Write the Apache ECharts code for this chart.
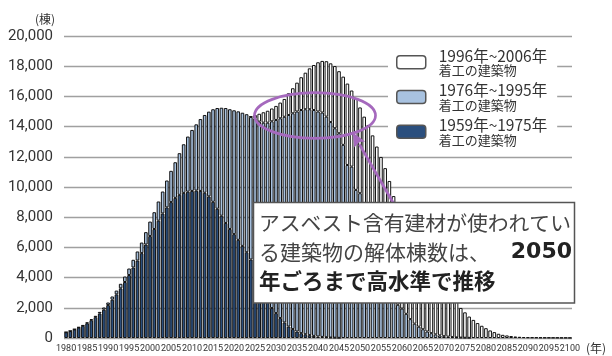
<!DOCTYPE html>
<html>
<head>
<meta charset="utf-8">
<script src="https://cdn.jsdelivr.net/npm/echarts@6/dist/echarts.min.js"></script>
<style>html,body{margin:0;padding:0;background:#fff}#c{width:612px;height:356px}</style>
</head>
<body>
<div id="c"></div>
<script>
// Categories: demolition years
const years = [];
for (let y = 1980; y <= 2100; y++) years.push(String(y));

const yTickLabels = ['0','2,000','4,000','6,000','8,000','10,000','12,000','14,000','16,000','18,000','20,000'];

const seriesNames = ['1996年~2006年', '1976年~1995年', '1959年~1975年'];

// 1959-1975 built (dark)
const dark = [
  380,460,570,690,810,975,1180,1380,1620,1880,
  2180,2540,2890,3290,3710,4170,4670,5130,5620,6190,
  6750,7220,7770,8250,8650,9000,9280,9480,9610,9690,
  9740,9760,9740,9620,9380,9020,8560,8100,7620,7220,
  6880,6500,6100,5680,5200,4600,3900,3100,2400,1980,
  1650,1320,1030,760,590,430,320,250,190,140,
  100,70,50,30,20,10,0,0,0,0,
  0,0,0,0,0,0,0,0,0,0,
  0,0,0,0,0,0,0,0,0,0,
  0,0,0,0,0,0,0,0,0,0,
  0,0,0,0,0,0,0,0,0,0,
  0,0,0,0,0,0,0,0,0,0,
  0
];
// 1976-1995 built (light blue)
const light = [
  10,15,20,30,40,55,70,90,110,140,
  170,210,250,300,360,430,510,600,700,820,
  960,1110,1270,1450,1780,2070,2360,2760,3220,3650,
  4040,4390,4760,5150,5610,6130,6670,7150,7610,7930,
  8200,8510,8820,9140,9440,9950,10430,11160,11860,12370,
  12790,13230,13620,14010,14290,14570,14780,14900,14960,14960,
  14900,14860,14610,14270,13870,13550,12790,11460,11350,9810,
  9590,8600,7600,6600,5600,4700,3800,3100,2550,2200,
  1950,1600,1250,950,750,580,430,320,240,170,
  120,90,60,40,25,15,10,0,0,0,
  0,0,0,0,0,0,0,0,0,0,
  0,0,0,0,0,0,0,0,0,0,
  0
];
// 1996-2006 built (white)
const white = [
  0,0,0,0,0,0,0,0,0,0,
  0,0,0,0,0,0,0,0,0,0,
  0,0,0,0,0,0,0,0,0,0,
  0,0,0,0,0,0,0,0,0,0,
  0,0,0,0,40,220,520,690,790,850,
  930,1040,1180,1440,1660,1910,2170,2420,2710,2980,
  3260,3420,3670,3890,4120,4110,4520,5390,5040,6060,
  5680,6060,6510,6820,7080,7290,7450,7300,6850,6200,
  5650,5300,4950,4650,4350,4120,3870,3630,3360,3130,
  2880,2710,2540,2380,1965,1685,1410,1200,990,810,
  650,500,390,280,210,170,130,100,80,60,
  50,45,40,35,30,30,25,25,20,20,
  15
];

const nz = a => a.map(v => v === 0 ? '-' : v);

const chart = echarts.init(document.getElementById('c'), null, {renderer: 'canvas'});
const barBase = {
  type: 'bar', stack: 'total', barCategoryGap: '14%',
  emphasis: {disabled: true}
};
const jp = '"Noto Sans CJK JP", sans-serif';
const num = '"Roboto", sans-serif';

chart.setOption({
  animation: false,
  grid: {left: 64, top: 36, width: 508, height: 302, containLabel: false},
  xAxis: {
    type: 'category', data: years,
    axisTick: {show: false}, axisLine: {show: false},
    axisLabel: {interval: 4, showMinLabel: true, showMaxLabel: true, hideOverlap: false,
      fontFamily: num, fontSize: 9, color: '#333', margin: 6},
    name: '(年)', nameLocation: 'end', nameGap: 8,
    nameTextStyle: {fontFamily: jp, fontSize: 12, color: '#333', verticalAlign: 'top', padding: [4, 0, 0, 0]}
  },
  yAxis: {
    type: 'value', min: 0, max: 20000, interval: 2000,
    axisLine: {show: false}, axisTick: {show: false},
    axisLabel: {
      fontFamily: num, fontSize: 15, color: '#333', margin: 11,
      padding: [5, 0, 0, 0],
      formatter: (v, i) => yTickLabels[i]
    },
    splitLine: {lineStyle: {color: '#a0a0a0', width: 1.3}},
    name: '(棟)', nameLocation: 'end', nameGap: 17,
    nameTextStyle: {fontFamily: jp, fontSize: 12, color: '#333', align: 'right', verticalAlign: 'middle', padding: [0, 9, 0, 0]}
  },
  legend: {
    orient: 'vertical', left: 388, top: 40,
    padding: [8, 10, 8, 8],
    backgroundColor: '#fff',
    itemWidth: 29, itemHeight: 13, itemGap: 6,
    selectedMode: false,
    data: seriesNames,
    itemStyle: {borderColor: '#555', borderWidth: 1.5},
    formatter: n => '{a|' + n + '}\n{b|着工の建築物}',
    textStyle: {
      padding: [0, 0, 0, 8],
      rich: {
        a: {fontFamily: jp, fontSize: 15.5, lineHeight: 16, color: '#333'},
        b: {fontFamily: jp, fontSize: 13, lineHeight: 13, color: '#333'}
      }
    }
  },
  series: [
    Object.assign({}, barBase, {name: seriesNames[2], data: nz(dark),
      itemStyle: {color: '#2b4f7e', borderColor: '#111', borderWidth: 1}}),
    Object.assign({}, barBase, {name: seriesNames[1], data: nz(light),
      itemStyle: {color: '#a8c2e0', borderColor: '#111', borderWidth: 1}}),
    Object.assign({}, barBase, {name: seriesNames[0], data: nz(white),
      itemStyle: {color: '#ffffff', borderColor: '#111', borderWidth: 1}})
  ],
  graphic: [
    {type: 'ellipse', z: 100, shape: {cx: 315, cy: 115.5, rx: 60.5, ry: 22.8},
     style: {fill: 'none', stroke: '#a569bd', lineWidth: 2.7}},
    {type: 'line', z: 100, shape: {x1: 393.3, y1: 203, x2: 359.5, y2: 144.5},
     style: {stroke: '#a569bd', lineWidth: 2.7}},
    {type: 'polygon', z: 100, shape: {points: [[352.8, 132.5], [365.2, 141.6], [359.5, 142], [354.3, 147.4], [352.8, 132.5]]},
     style: {fill: '#a569bd'}},
    {type: 'rect', z: 101, shape: {x: 253.5, y: 202.5, width: 321, height: 100.5},
     style: {fill: '#fff', stroke: '#555', lineWidth: 1.5}},
    {type: 'text', z: 102, style: {x: 259, y: 223, text: 'アスベスト含有建材が使われてい',
      fontFamily: jp, fontSize: 20.8, fill: '#444', verticalAlign: 'middle', align: 'left'}},
    {type: 'text', z: 102, style: {x: 259, y: 252, text: 'る建築物の解体棟数は、',
      fontFamily: jp, fontSize: 21, fill: '#444', verticalAlign: 'middle', align: 'left'}},
    {type: 'text', z: 102, style: {x: 572, y: 252, text: '2050',
      fontFamily: '"DejaVu Sans", sans-serif', fontWeight: 'bold', fontSize: 22, fill: '#222', verticalAlign: 'middle', align: 'right'}},
    {type: 'text', z: 102, style: {x: 259, y: 281, text: '年ごろまで高水準で推移',
      fontFamily: jp, fontWeight: 'bold', fontSize: 21.5, fill: '#222', verticalAlign: 'middle', align: 'left'}}
  ]
});
</script>
</body>
</html>
